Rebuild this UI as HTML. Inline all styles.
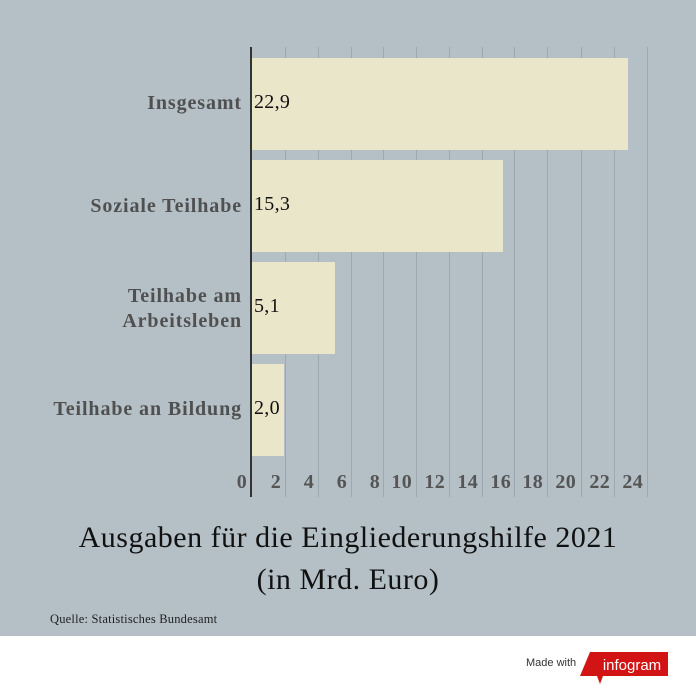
<!DOCTYPE html>
<html><head><meta charset="utf-8"><style>
body{margin:0;width:696px;height:693px;overflow:hidden;background:#fff;font-family:"Liberation Serif",serif;}
#bg{position:absolute;left:0;top:0;width:696px;height:636px;background:#b4c0c6;}
.g{position:absolute;top:47px;height:450px;width:1px;background:#9ea9af;}
.bar{position:absolute;left:251px;height:92px;background:#eae6ca;}
.v{position:absolute;left:254px;font-size:20px;color:#111;letter-spacing:0.3px}
.lab{position:absolute;right:454px;text-align:right;font-weight:bold;font-size:20px;letter-spacing:0.9px;color:#505050;line-height:25px;}
.t{position:absolute;top:471px;font-size:20px;font-weight:bold;color:#555;text-align:right;width:30px;letter-spacing:0.3px}
</style></head><body>
<div id="bg"></div>
<div class="g" style="left:285px"></div><div class="g" style="left:318px"></div><div class="g" style="left:351px"></div><div class="g" style="left:383px"></div><div class="g" style="left:416px"></div><div class="g" style="left:449px"></div><div class="g" style="left:482px"></div><div class="g" style="left:514px"></div><div class="g" style="left:547px"></div><div class="g" style="left:581px"></div><div class="g" style="left:614px"></div><div class="g" style="left:647px"></div>
<div class="bar" style="top:58px;width:377px"></div>
<div class="bar" style="top:160px;width:252px"></div>
<div class="bar" style="top:262px;width:84px"></div>
<div class="bar" style="top:364px;width:33px"></div>
<div style="position:absolute;left:250px;top:47px;width:2px;height:450px;background:#333"></div>
<div class="v" style="top:91px">22,9</div>
<div class="v" style="top:193px">15,3</div>
<div class="v" style="top:295px">5,1</div>
<div class="v" style="top:397px">2,0</div>
<div class="lab" style="top:91px">Insgesamt</div>
<div class="lab" style="top:194px">Soziale Teilhabe</div>
<div class="lab" style="top:284px">Teilhabe am<br>Arbeitsleben</div>
<div class="lab" style="top:397px">Teilhabe an Bildung</div>
<div class="t" style="left:217px">0</div>
<div class="t" style="left:251px">2</div><div class="t" style="left:284px">4</div><div class="t" style="left:317px">6</div><div class="t" style="left:350px">8</div><div class="t" style="left:382px">10</div><div class="t" style="left:415px">12</div><div class="t" style="left:448px">14</div><div class="t" style="left:481px">16</div><div class="t" style="left:513px">18</div><div class="t" style="left:546px">20</div><div class="t" style="left:580px">22</div><div class="t" style="left:613px">24</div>
<div style="position:absolute;left:0;width:696px;top:517px;text-align:center;font-size:30px;letter-spacing:0.5px;line-height:42px;color:#111">Ausgaben für die Eingliederungshilfe 2021<br>(in Mrd. Euro)</div>
<div style="position:absolute;left:50px;top:612px;font-size:12.5px;letter-spacing:0.2px;color:#222">Quelle: Statistisches Bundesamt</div>
<div style="position:absolute;left:526px;top:657px;font-family:'Liberation Sans',sans-serif;font-size:11px;color:#333">Made with</div>
<svg style="position:absolute;left:578px;top:652px" width="92" height="34"><polygon points="12,0 90,0 90,24 25,24 22,32 19,24 2,24" fill="#d21414"/><text x="54" y="18" fill="#fff" font-family="Liberation Sans,sans-serif" font-size="15" text-anchor="middle">infogram</text></svg>
</body></html>
